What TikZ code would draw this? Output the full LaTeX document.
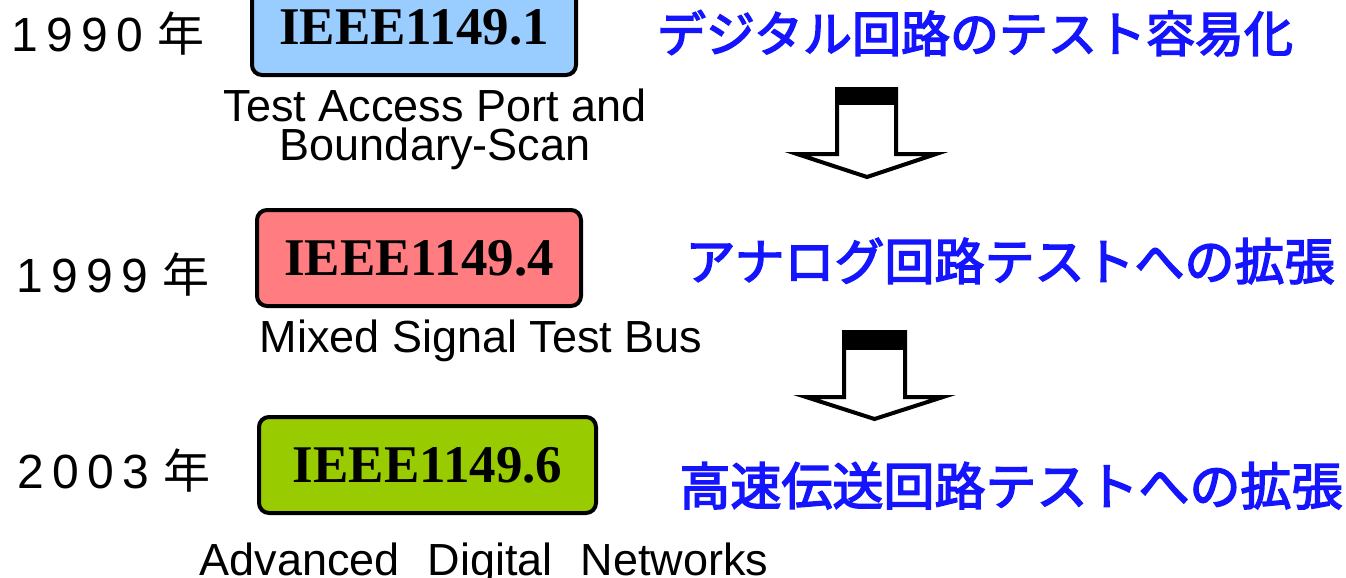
\documentclass[tikz,border=0pt]{standalone}
\usepackage{fontspec}
\setmainfont{Liberation Sans}
\newfontfamily\jp{Noto Sans CJK JP}
\newfontfamily\jpm[FakeBold=3]{Noto Sans CJK JP}
\newfontfamily\tms{Liberation Serif}
\definecolor{jblue}{RGB}{20,20,255}
\definecolor{boxblue}{RGB}{153,204,255}
\definecolor{boxred}{RGB}{255,124,128}
\definecolor{boxgreen}{RGB}{153,204,0}
\newcommand\dg[1]{\makebox[35pt]{#1}}
\newcommand\nen{{\jp\fontsize{47}{50}\selectfont 年}}
\tikzset{
  stdbox/.style={draw=black, line width=4pt, rounded corners=10pt, inner sep=0pt,
    minimum height=96pt, font=\tms\bfseries\fontsize{53}{60}\selectfont},
  yearlbl/.style={anchor=base west, inner sep=0pt, font=\fontsize{48}{50}\selectfont},
  subtxt/.style={anchor=base, inner sep=0pt, font=\fontsize{45}{50}\selectfont},
  jptxt/.style={anchor=base, inner sep=0pt, text=jblue, font=\jpm\fontsize{49}{56}\selectfont},
  blockarrow/.style={draw=black, fill=white, line width=4pt, line join=miter},
}
\begin{document}
\begin{tikzpicture}[x=1pt,y=-1pt]
\clip (0,0) rectangle (1346,578);
\fill[white] (0,0) rectangle (1346,578);

% years
\node[yearlbl] (y1) at (7.5,52) {\dg{1}\dg{9}\dg{9}\dg{0}\hspace{10pt}\nen};
\node[yearlbl] (y2) at (12,292) {\dg{1}\dg{9}\dg{9}\dg{9}\hspace{10pt}\nen};
\node[yearlbl] (y3) at (13.5,488) {\dg{2}\dg{0}\dg{0}\dg{3}\hspace{10pt}\nen};

% standard boxes
\node[stdbox, fill=boxblue, minimum width=324pt] (b1) at (414,27) {IEEE1149.1};
\node[stdbox, fill=boxred, minimum width=324pt] (b2) at (419,258) {IEEE1149.4};
\node[stdbox, fill=boxgreen, minimum width=337pt] (b3) at (427.5,465) {IEEE1149.6};

% subtitles
\node[subtxt, align=center, font=\fontsize{45}{39}\selectfont] (s1) at (435,160.5)
  {Test Access Port and\\Boundary-Scan};
\node[subtxt] (s2) at (481,352) {Mixed Signal Test Bus};
\node[subtxt] (s3) at (484,575) {Advanced\hspace{28pt}Digital\hspace{28pt}Networks};

% Japanese descriptions
\node[jptxt] (j1) at (975,52) {デジタル回路のテスト容易化};
\node[jptxt, font=\jpm\fontsize{50}{56}\selectfont] (j2) at (1010,280) {アナログ回路テストへの拡張};
\node[jptxt, font=\jpm\fontsize{51}{56}\selectfont] (j3) at (1011,505) {高速伝送回路テストへの拡張};

% block arrows
\draw[blockarrow] (837,89) -- (896,89) -- (896,154) -- (936,154) -- (867,177)
  -- (797,154) -- (837,154) -- cycle;
\fill[black] (835,87) rectangle (898,105);
\draw[blockarrow] (844,332) -- (905,332) -- (905,397) -- (943,397) -- (874.5,419)
  -- (806,397) -- (844,397) -- cycle;
\fill[black] (842,330) rectangle (907,350);
\end{tikzpicture}
\end{document}
